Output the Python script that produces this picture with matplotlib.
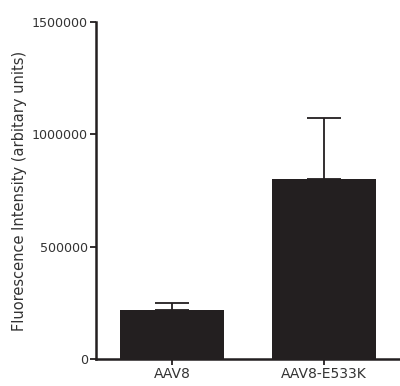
import matplotlib
matplotlib.use('Agg')
import matplotlib.pyplot as plt
import numpy as np

plt.rcParams['font.family'] = ['DejaVu Sans']

# datos
grupos = ['AAV8', 'AAV8-E533K']
media = [218000, 801000]
error = [31000, 271000]
yticks = [0, 500000, 1000000, 1500000]

fig = plt.figure(figsize=(4.0, 3.86), dpi=100)
ax = fig.add_axes([96/400, 1-359/386, 304/400, 337/386])

x = np.arange(len(grupos))
ax.bar(x, media, width=0.68, color='#231f20', zorder=2)
ax.errorbar(x, media, yerr=[np.zeros(len(error)), error], fmt='none',
            ecolor='#231f20', elinewidth=1.3, capsize=12.5, capthick=1.3, zorder=1)

ax.set_xlim(-0.5, 1.5)
ax.set_ylim(0, 1500000)
ax.set_yticks(yticks)
ax.set_yticklabels([str(v) for v in yticks], fontsize=9.1, color='#333333')
ax.set_xticks(x)
ax.set_xticklabels(grupos, fontsize=10, color='#333333')
ax.set_ylabel('Fluorescence Intensity (arbitary units)', fontsize=10.5, color='#333333', labelpad=3)

for s in ['top', 'right']:
    ax.spines[s].set_visible(False)
for s in ['left', 'bottom']:
    ax.spines[s].set_linewidth(1.8)
    ax.spines[s].set_color('#231f20')
ax.tick_params(axis='both', width=1.3, length=4, color='#231f20', pad=2)

fig.savefig('out.png', dpi=100)
